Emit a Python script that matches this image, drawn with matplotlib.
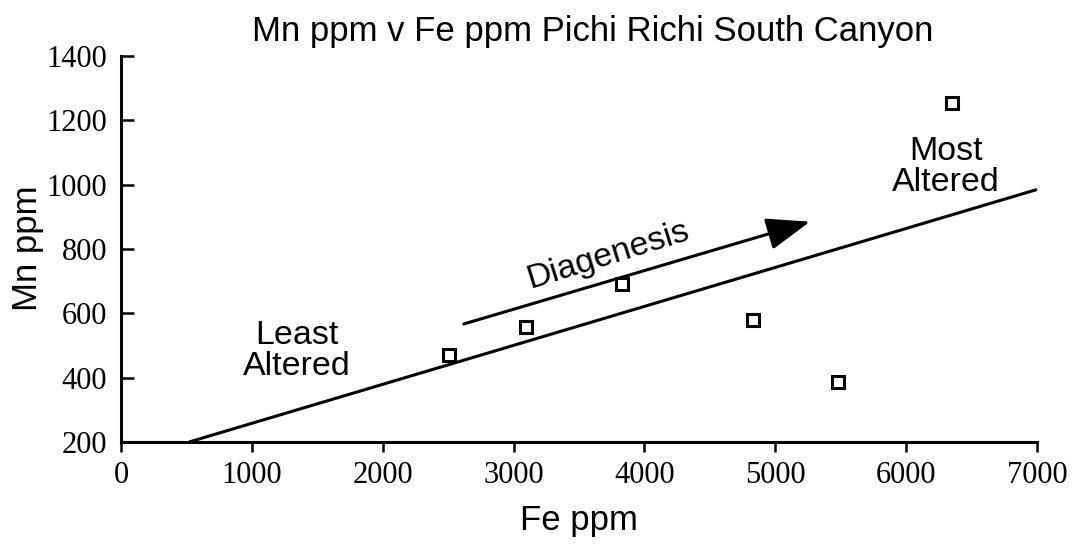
import matplotlib
matplotlib.use("Agg")
import matplotlib.pyplot as plt

# Fe vs Mn samples, Pichi Richi South Canyon
fe_ppm = [2510, 3095, 3825, 4830, 5480, 6350]
mn_ppm = [470, 558, 691, 579, 387, 1255]

# hand-drawn trend line and diagenesis arrow (data coords)
trend_fe = [520, 7000]
trend_mn = [200, 985]
arrow_start = (2620, 567)
arrow_end = (5265, 885)

xticks = [0, 1000, 2000, 3000, 4000, 5000, 6000, 7000]
yticks = [200, 400, 600, 800, 1000, 1200, 1400]

sans = "Liberation Sans"
serif = "Liberation Serif"

fig = plt.figure(figsize=(10.73, 5.44), dpi=100)
ax = fig.add_axes([0.1128, 0.1875, 0.8537, 0.7096])

# trend line
ax.plot(trend_fe, trend_mn, color="black", lw=2.2, solid_capstyle="butt", clip_on=False)

# data points
ax.plot(fe_ppm, mn_ppm, ls="none", marker="s", ms=8.5, mfc="white",
        mec="black", mew=2.2, clip_on=False, zorder=5)

# diagenesis arrow
ax.annotate("", xy=arrow_end, xytext=arrow_start,
            arrowprops=dict(arrowstyle="-|>,head_length=1.35,head_width=0.5",
                            mutation_scale=20, lw=2.2, color="black",
                            shrinkA=0, shrinkB=0))
ax.text(3722, 781, "Diagenesis", fontsize=24.5, family=sans, rotation=17.2,
        rotation_mode="anchor", ha="center", va="center")
ax.text(1345, 483, "Least\nAltered", fontsize=24.5, family=sans,
        ha="center", va="center", linespacing=0.97)
ax.text(6304, 1055, "Most\nAltered", fontsize=24.5, family=sans,
        ha="center", va="center", linespacing=0.97)

ax.set_xlim(0, 7000)
ax.set_ylim(200, 1400)
ax.set_xticks(xticks)
ax.set_yticks(yticks)
ax.set_xticklabels([str(v) for v in xticks], family=serif, fontsize=22)
ax.set_yticklabels([str(v) for v in yticks], family=serif, fontsize=22)

for s in ["top", "right"]:
    ax.spines[s].set_visible(False)
for s in ["left", "bottom"]:
    ax.spines[s].set_linewidth(2.2)

ax.tick_params(axis="x", direction="out", length=7.5, width=1.8, pad=6)
ax.tick_params(axis="y", direction="in", length=9, width=1.8, pad=10)

fig.text(0.552, 0.925, "Mn ppm v Fe ppm Pichi Richi South Canyon",
         fontsize=25, family=sans, ha="center", va="baseline")
fig.text(0.54, 0.026, "Fe ppm", fontsize=25, family=sans,
         ha="center", va="baseline")
fig.text(0.026, 0.544, "Mn ppm", fontsize=25, family=sans,
         rotation=90, ha="center", va="center")

fig.savefig("out.png", dpi=100)
